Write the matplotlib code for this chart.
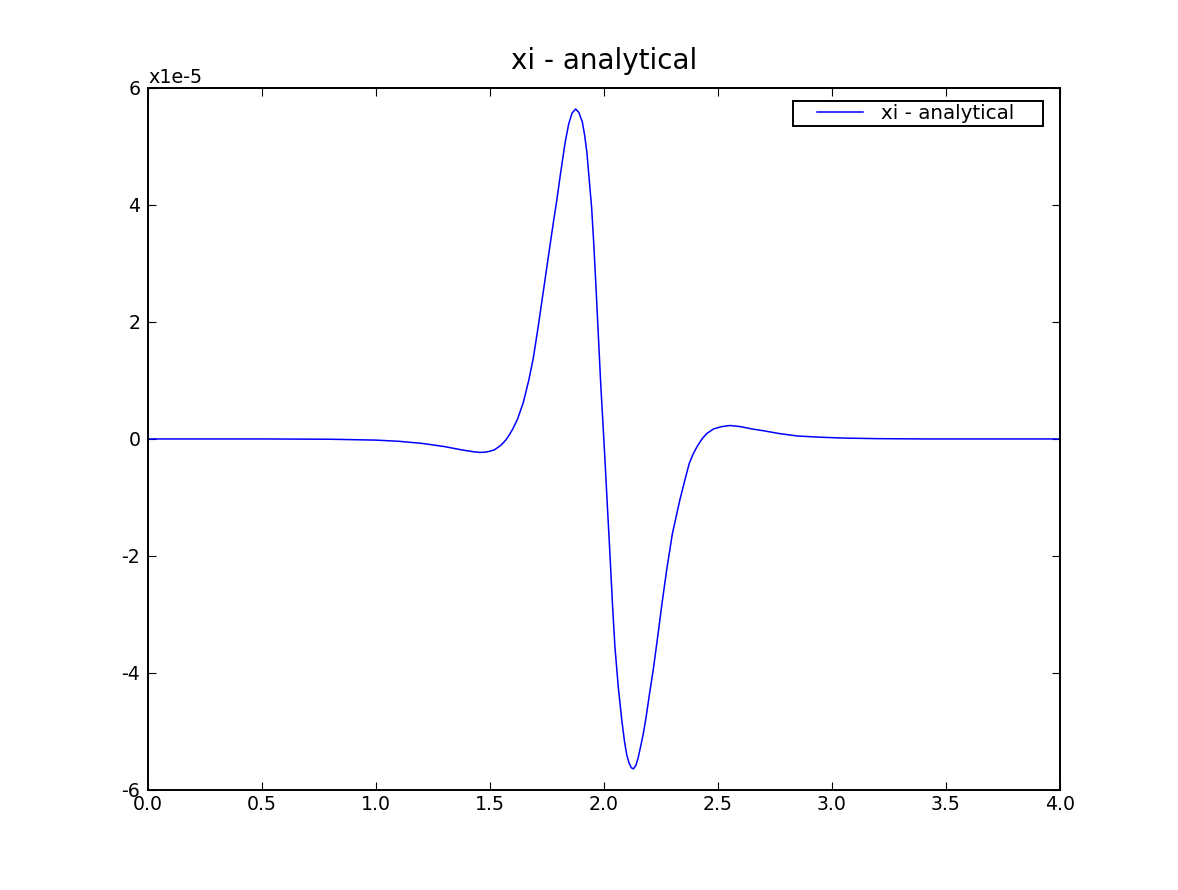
import matplotlib
matplotlib.use("Agg")
import matplotlib.pyplot as plt
from matplotlib.legend_handler import HandlerLine2D

# values, y in units of 1e-5
xs = [0.0, 0.5, 0.8, 1.0, 1.1, 1.2, 1.3, 1.38, 1.43, 1.456, 1.48, 1.50,
      1.52, 1.544, 1.56, 1.573, 1.588, 1.60, 1.62, 1.646, 1.67, 1.69,
      1.71, 1.734, 1.75, 1.763, 1.78, 1.792, 1.81, 1.829, 1.845, 1.86,
      1.876, 1.89, 1.905, 1.915, 1.925, 1.935, 1.946, 1.955, 1.965, 1.975,
      1.985, 1.995, 2.005, 2.015, 2.026, 2.037, 2.048, 2.063, 2.078, 2.09,
      2.10, 2.11, 2.12, 2.129, 2.14, 2.15, 2.16, 2.172, 2.185, 2.2,
      2.216, 2.235, 2.255, 2.275, 2.3, 2.333, 2.355, 2.374, 2.392, 2.41,
      2.43, 2.45, 2.48, 2.515, 2.553, 2.6, 2.65, 2.7, 2.772, 2.85,
      2.947, 3.05, 3.2, 3.4, 4.0]
xi = [0.0, 0.0, -0.005, -0.02, -0.04, -0.075, -0.13, -0.19, -0.22, -0.23, -0.225, -0.21,
      -0.185, -0.12, -0.06, 0.0, 0.09, 0.17, 0.33, 0.62, 1.0, 1.38,
      1.88, 2.52, 2.95, 3.3, 3.75, 4.05, 4.55, 5.05, 5.38, 5.57,
      5.64, 5.58, 5.42, 5.2, 4.9, 4.45, 3.95, 3.35, 2.6, 1.8,
      1.0, 0.3, -0.4, -1.15, -1.95, -2.8, -3.55, -4.25, -4.8, -5.17,
      -5.4, -5.54, -5.62, -5.64, -5.58, -5.45, -5.27, -5.05, -4.75, -4.35,
      -3.95, -3.4, -2.8, -2.24, -1.62, -1.04, -0.7, -0.42, -0.25, -0.12,
      0.0, 0.09, 0.17, 0.21, 0.23, 0.21, 0.17, 0.14, 0.09, 0.05,
      0.03, 0.015, 0.005, 0.0, 0.0]
label = "xi - analytical"

plt.rcParams['axes.unicode_minus'] = False
plt.rcParams['font.family'] = ['DejaVu Sans']

fig = plt.figure(figsize=(11.78, 8.90), dpi=100)
ax = fig.add_axes([0.1256, 0.1124, 0.7742, 0.7888])

ax.plot(xs, xi, color='#0000ff', lw=1.1, label=label)

ax.set_xlim(0, 4)
ax.set_ylim(-6, 6)
ax.set_xticks([0, 0.5, 1.0, 1.5, 2.0, 2.5, 3.0, 3.5, 4.0])
ax.set_xticklabels(['0.0', '0.5', '1.0', '1.5', '2.0', '2.5', '3.0', '3.5', '4.0'])
ax.set_yticks([-6, -4, -2, 0, 2, 4, 6])
ax.tick_params(direction='in', top=True, right=True, length=6,
               width=0.8, labelsize=13.6)
ax.tick_params(axis='x', pad=3.5)
ax.tick_params(axis='y', pad=5.5)
for sp in ax.spines.values():
    sp.set_linewidth(1.4)

# offset text, written the old way
ax.text(0.0, 1.007, "x1e-5", transform=ax.transAxes, ha='left', va='baseline',
        fontsize=13.8)
ax.set_title(label, fontsize=20, pad=13.3)

# legend box: left pad via handle xpad, right pad via trailing spaces
leg = ax.legend(loc='upper right', bbox_to_anchor=(0.9814, 0.9815),
                borderaxespad=0, fontsize=14.3, fancybox=False,
                framealpha=1, edgecolor='black', borderpad=0.15,
                handlelength=3.37, handletextpad=0.9,
                handler_map={plt.Line2D: HandlerLine2D(xpad=1.05)})
leg.texts[0].set_text(label + "    ")
leg.get_frame().set_linewidth(1.4)

fig.savefig("out.png", dpi=100)
